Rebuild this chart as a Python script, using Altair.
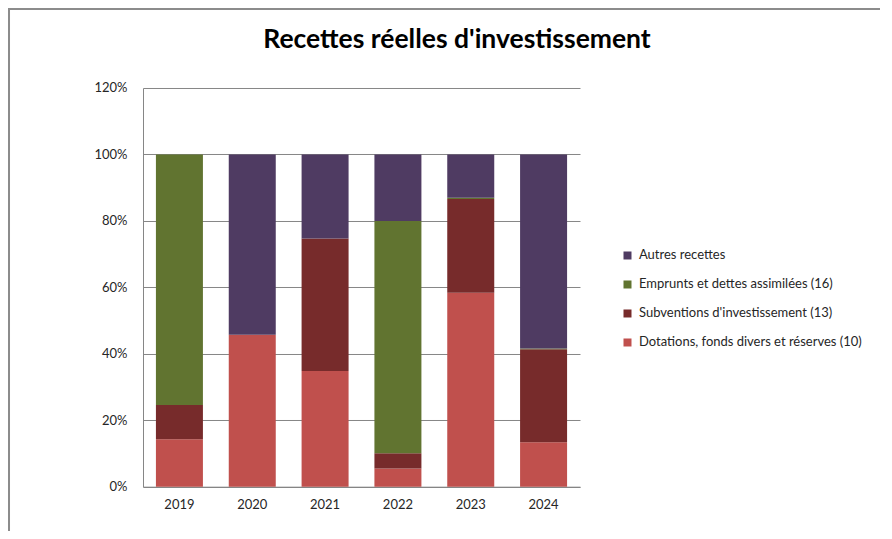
import altair as alt
import pandas as pd

title_text = "Recettes réelles d'investissement"
years = ["2019", "2020", "2021", "2022", "2023", "2024"]
series = [
    "Autres recettes",
    "Emprunts et dettes assimilées (16)",
    "Subventions d'investissement (13)",
    "Dotations, fonds divers et réserves (10)",
]
colors = ["#4F3B62", "#617430", "#772B2B", "#C0504D"]

dotations = [14.3, 45.7, 34.8, 5.5, 58.4, 13.4]
subventions = [10.3, 0.0, 39.9, 4.6, 28.2, 28.0]
emprunts = [75.4, 0.0, 0.0, 69.9, 0.4, 0.2]
autres = [0.0, 54.3, 25.3, 20.0, 13.0, 58.4]

values_by_series = {
    series[3]: dotations,
    series[2]: subventions,
    series[1]: emprunts,
    series[0]: autres,
}
stack_order = {series[3]: 0, series[2]: 1, series[1]: 2, series[0]: 3}

rows = []
for s, vals in values_by_series.items():
    for y, v in zip(years, vals):
        rows.append({"year": y, "serie": s, "value": v / 100.0, "ord": stack_order[s]})
df = pd.DataFrame(rows)

FONT = "Lato"

bars = alt.Chart(df).mark_bar(size=47).encode(
    x=alt.X("year:N", sort=years, title=None,
            scale=alt.Scale(paddingInner=0.355, paddingOuter=0.1775),
            axis=alt.Axis(labelAngle=0, ticks=False, domainColor="#868686",
                          labelPadding=12, labelFontSize=13, labelColor="#262626",
                          labelFont=FONT)),
    y=alt.Y("value:Q", stack="zero", title=None,
            scale=alt.Scale(domain=[0, 1.2], nice=False),
            axis=alt.Axis(format=".0%", values=[0, 0.2, 0.4, 0.6, 0.8, 1.0, 1.2],
                          ticks=False, grid=True, gridColor="#868686", gridWidth=1,
                          domainColor="#868686", labelPadding=16, labelFontSize=13,
                          labelColor="#262626", labelFont=FONT)),
    color=alt.Color("serie:N", scale=alt.Scale(domain=series, range=colors),
                    legend=alt.Legend(title=None, orient="none", legendX=478, legendY=161,
                                      symbolType="square", symbolSize=64,
                                      symbolStrokeWidth=0, labelFontSize=13,
                                      labelFont=FONT, labelColor="#262626",
                                      rowPadding=15, labelOffset=5,
                                      labelLimit=400)),
    order=alt.Order("ord:Q", sort="ascending"),
)

frame = alt.Chart(pd.DataFrame({"a": [0]})).mark_rect(
    fill=None, stroke="#8C8C8C", strokeWidth=2
).encode(
    x=alt.value(-134), x2=alt.value(1000), y=alt.value(-79), y2=alt.value(1000)
)

title = alt.Chart(pd.DataFrame({"t": [title_text]})).mark_text(
    font=FONT, fontSize=26.5, fontWeight="bold", color="#000000",
    align="center", baseline="alphabetic"
).encode(
    text="t:N", x=alt.value(314), y=alt.value(-40)
)

chart = alt.layer(frame, bars, title).properties(
    width=437,
    height=398.7,
    autosize=alt.AutoSizeParams(type="none"),
    padding={"left": 135, "top": 80, "right": 300, "bottom": 44},
).configure_view(stroke=None)

chart.save("out.html", embed_options={"renderer": "svg", "actions": False})
